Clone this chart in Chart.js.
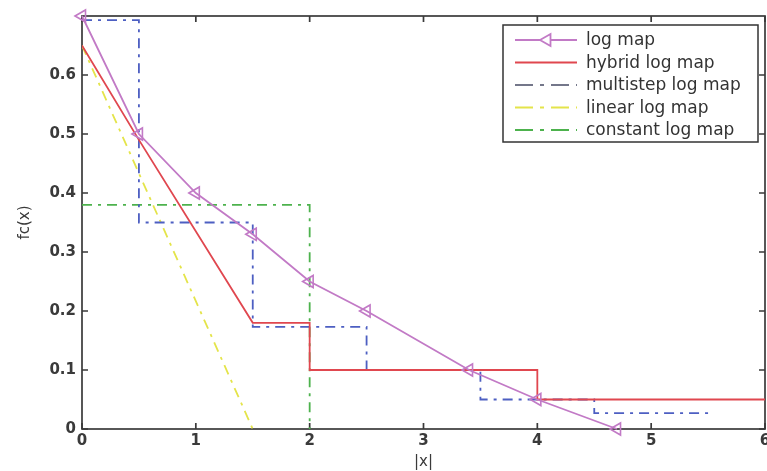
<!DOCTYPE html>
<html><head><meta charset="utf-8">
<script src="https://cdn.jsdelivr.net/npm/chart.js@4/dist/chart.umd.min.js"></script>
<style>html,body{margin:0;padding:0;background:#fff;overflow:hidden}#wrap{width:767px;height:471px;position:relative}</style>
</head><body><div id="wrap"><canvas id="c" width="767" height="471"></canvas></div>
<script>
// ---- data ----
const seriesNames = ['log map', 'hybrid log map', 'multistep log map', 'linear log map', 'constant log map'];
const logX = [0, 0.5, 1, 1.5, 2, 2.5, 3.4, 4, 4.7];
const logY = [0.7, 0.5, 0.4, 0.33, 0.25, 0.2, 0.1, 0.05, 0];
const hybridX = [0, 0.5, 1.5, 2, 2, 4, 4, 6];
const hybridY = [0.65, 0.49, 0.18, 0.18, 0.1, 0.1, 0.05, 0.05];
const multiX = [0, 0.5, 0.5, 1.5, 1.5, 2.5, 2.5, 3.5, 3.5, 4.5, 4.5, 5.5, 5.5];
const multiY = [0.693, 0.693, 0.35, 0.35, 0.173, 0.173, 0.1, 0.1, 0.05, 0.05, 0.027, 0.027, 0.017];
const linearX = [0, 1.5];
const linearY = [0.65, 0];
const constX = [0, 2, 2];
const constY = [0.38, 0.38, 0];
const xTicks = [0, 1, 2, 3, 4, 5, 6];
const yTicks = [0, 0.1, 0.2, 0.3, 0.4, 0.5, 0.6];
const xTitle = '|x|';
const yTitle = 'fc(x)';

const pts = (xs, ys) => xs.map((v, i) => ({x: v, y: ys[i]}));
const FONT = '"DejaVu Sans", sans-serif';
const DASHDOT = [10, 6, 3, 6];
const LW = 1.8;

const colors = ['#c27ac6', '#e0474f', '#4d5fc2', '#e4e44a', '#4db24d'];

const datasets = [
  {label: seriesNames[0], data: pts(logX, logY), borderColor: colors[0], borderWidth: LW,
   pointStyle: 'triangle', rotation: -90, pointRadius: 7, pointBorderColor: colors[0],
   pointBackgroundColor: 'rgba(0,0,0,0)', pointBorderWidth: 1.6, clip: false, legendLine: colors[0]},
  {label: seriesNames[1], data: pts(hybridX, hybridY), borderColor: colors[1], borderWidth: LW, pointRadius: 0, legendLine: colors[1]},
  {label: seriesNames[2], data: pts(multiX, multiY), borderColor: colors[2], borderWidth: LW, borderDash: DASHDOT, pointRadius: 0, legendLine: '#74778a'},
  {label: seriesNames[3], data: pts(linearX, linearY), borderColor: colors[3], borderWidth: LW, borderDash: DASHDOT, pointRadius: 0, legendLine: colors[3]},
  {label: seriesNames[4], data: pts(constX, constY), borderColor: colors[4], borderWidth: LW, borderDash: DASHDOT, pointRadius: 0, legendLine: colors[4]}
];
datasets.forEach(d => { d.showLine = true; d.fill = false; d.tension = 0; });

const framePlugin = {
  id: 'frame',
  beforeDatasetsDraw(chart) {
    const {ctx, chartArea: a, scales: {x, y}} = chart;
    ctx.save();
    ctx.strokeStyle = '#3a3a3a'; ctx.lineWidth = 1.7;
    ctx.strokeRect(a.left, a.top, a.right - a.left, a.bottom - a.top);
    ctx.beginPath();
    xTicks.forEach(v => { const p = x.getPixelForValue(v);
      ctx.moveTo(p, a.bottom); ctx.lineTo(p, a.bottom - 6); ctx.moveTo(p, a.top); ctx.lineTo(p, a.top + 6); });
    yTicks.forEach(v => { const p = y.getPixelForValue(v);
      ctx.moveTo(a.left, p); ctx.lineTo(a.left + 6, p); ctx.moveTo(a.right, p); ctx.lineTo(a.right - 6, p); });
    ctx.stroke();
    ctx.restore();
  }
};

const legendPlugin = {
  id: 'mlegend',
  afterDatasetsDraw(chart) {
    const {ctx, chartArea: a} = chart;
    const w = 255, h = 117;
    const x0 = a.right - 7 - w, y0 = a.top + 9;
    ctx.save();
    ctx.fillStyle = '#fff'; ctx.fillRect(x0, y0, w, h);
    ctx.strokeStyle = '#333'; ctx.lineWidth = 1.5; ctx.strokeRect(x0, y0, w, h);
    chart.data.datasets.forEach((ds, i) => {
      const cy = y0 + 15 + i * 22.5;
      ctx.strokeStyle = ds.legendLine; ctx.lineWidth = ds.borderWidth;
      ctx.setLineDash(ds.borderDash ? [18, 7, 4, 7] : []);
      ctx.beginPath(); ctx.moveTo(x0 + 12, cy); ctx.lineTo(x0 + 74, cy); ctx.stroke();
      ctx.setLineDash([]);
      if (ds.pointRadius > 0) {
        const r = ds.pointRadius, cx = x0 + 44;
        ctx.beginPath();
        ctx.moveTo(cx - r, cy);
        ctx.lineTo(cx + r * 0.5, cy - r * 0.866);
        ctx.lineTo(cx + r * 0.5, cy + r * 0.866);
        ctx.closePath();
        ctx.fillStyle = '#fff'; ctx.fill(); ctx.stroke();
      }
      ctx.fillStyle = '#333'; ctx.font = '17px ' + FONT; ctx.textBaseline = 'middle'; ctx.textAlign = 'left';
      ctx.fillText(ds.label, x0 + 83, cy + 1);
    });
    ctx.restore();
  }
};

new Chart(document.getElementById('c'), {
  type: 'scatter',
  data: {datasets},
  options: {
    responsive: false,
    animation: false,
    layout: {autoPadding: false, padding: {top: 16, right: 2, left: 0, bottom: 0}},
    plugins: {legend: {display: false}, tooltip: {enabled: false}},
    scales: {
      x: {
        type: 'linear', min: 0, max: 6,
        grid: {display: false, drawTicks: false}, border: {display: false},
        afterBuildTicks: s => { s.ticks = xTicks.map(v => ({value: v})); },
        ticks: {padding: 3, color: '#3a3a3a', font: {family: FONT, size: 15, weight: 'bold'}, maxRotation: 0,
                callback: v => String(v)},
        title: {display: true, text: xTitle, color: '#3a3a3a', font: {family: FONT, size: 15}, padding: {top: 0, bottom: 0}},
        afterFit: s => { s.height = 42; s.paddingLeft = 0; s.paddingRight = 0; }
      },
      y: {
        type: 'linear', min: 0, max: 0.7,
        grid: {display: false, drawTicks: false}, border: {display: false},
        afterBuildTicks: s => { s.ticks = yTicks.map(v => ({value: v})); },
        ticks: {padding: 6, color: '#3a3a3a', font: {family: FONT, size: 15, weight: 'bold'},
                callback: v => v === 0 ? '0' : v.toFixed(1)},
        title: {display: true, text: yTitle, color: '#3a3a3a', font: {family: FONT, size: 15}, padding: {top: 16, bottom: 0}},
        afterFit: s => { s.width = 82; s.paddingTop = 0; s.paddingBottom = 0; }
      }
    }
  },
  plugins: [framePlugin, legendPlugin]
});
</script>
</body></html>
